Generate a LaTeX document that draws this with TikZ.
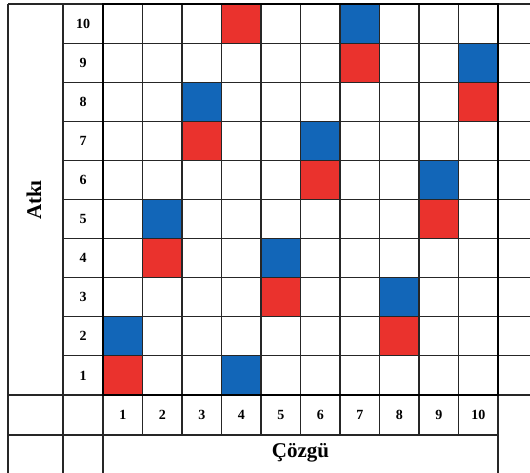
\documentclass[tikz,border=0pt]{standalone}
\usepackage{fontspec}
\setmainfont{Liberation Serif}
\definecolor{cred}{RGB}{234,50,45}
\definecolor{cblue}{RGB}{18,102,184}
\tikzset{
  thin line/.style={line width=1.1pt, draw=black!85},
  thick line/.style={line width=2.8pt, draw=black},
  numlabel/.style={font=\bfseries\fontsize{14}{16}\selectfont, inner sep=0pt},
  biglabel/.style={font=\bfseries\fontsize{21}{24}\selectfont, inner sep=0pt}
}
\begin{document}
\begin{tikzpicture}[x=1pt,y=-1pt]
\useasboundingbox (0,0) rectangle (530,473);
\fill[white] (0,0) rectangle (530,473);
% coloured cells: column/row/colour
\foreach \c/\r/\col in {4/10/cred,7/10/cblue,7/9/cred,10/9/cblue,3/8/cblue,10/8/cred,3/7/cred,6/7/cblue,6/6/cred,9/6/cblue,2/5/cblue,9/5/cred,2/4/cred,5/4/cblue,5/3/cred,8/3/cblue,1/2/cblue,8/2/cred,1/1/cred,4/1/cblue}
  \fill[\col] ({103+39.5*(\c-1)},{395-39.1*\r}) rectangle ++(39.5,39.1);
% horizontal lines
\draw[thin line] (8,4) -- (530,4);
\foreach \k in {1,...,9}
  \draw[thin line] (63,{4+39.1*\k}) -- (530,{4+39.1*\k});
\draw[thin line] (8,395) -- (530,395);
\draw[thin line] (8,435) -- (498,435);
% vertical lines
\draw[thin line] (8,4) -- (8,473);
\draw[thin line] (63,4) -- (63,473);
\draw[thin line] (103,4) -- (103,473);
\draw[thin line] (498,4) -- (498,473);
\foreach \k in {1,...,9}
  \draw[thin line] ({103+39.5*\k},4) -- ({103+39.5*\k},435);
% thick frame of the grid
\draw[thick line] (103,4) rectangle (498,395);
% row numbers
\foreach \r in {1,...,10}
  \node[numlabel] (row\r) at (83,{395-39.1*(\r-0.5)}) {\r};
% column numbers
\foreach \c in {1,...,10}
  \node[numlabel] (col\c) at ({103+39.5*(\c-0.5)},415) {\c};
\node[biglabel, rotate=90] (atki) at (34,200) {Atkı};
\node[biglabel] (cozgu) at (300.5,453) {Çözgü};
\end{tikzpicture}
\end{document}
